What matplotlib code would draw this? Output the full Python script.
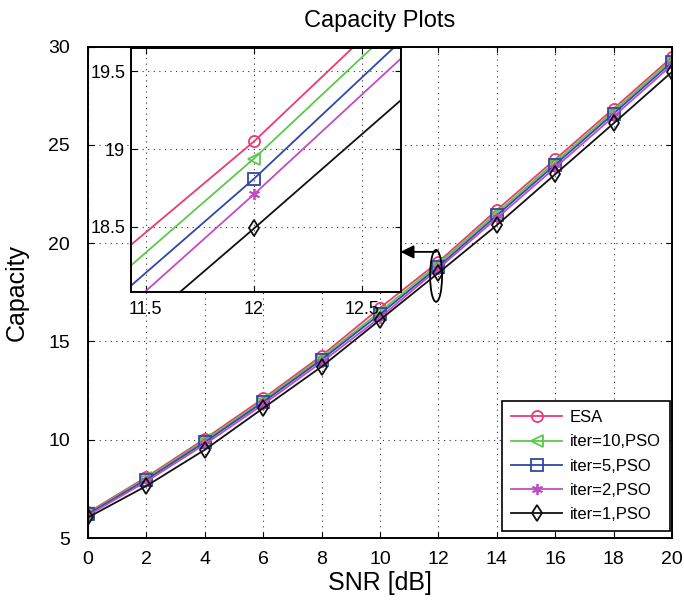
import numpy as np
import matplotlib
matplotlib.use('Agg')
import matplotlib.pyplot as plt
from matplotlib.patches import Ellipse

plt.rcParams['font.family'] = ['Liberation Sans', 'DejaVu Sans']

snr = [0, 2, 4, 6, 8, 10, 12, 14, 16, 18, 20]
esa = [6.30, 8.10, 10.05, 12.10, 14.28, 16.71, 19.05, 21.69, 24.27, 26.85, 29.47]
pso10 = [6.27, 8.03, 9.97, 12.00, 14.18, 16.52, 18.94, 21.55, 24.13, 26.72, 29.35]
pso5 = [6.22, 7.97, 9.88, 11.92, 14.08, 16.39, 18.81, 21.42, 24.00, 26.60, 29.22]
pso2 = [6.16, 7.88, 9.77, 11.80, 13.95, 16.22, 18.71, 21.28, 23.85, 26.45, 29.08]
pso1 = [6.05, 7.65, 9.49, 11.61, 13.72, 16.10, 18.49, 20.92, 23.51, 26.10, 28.72]

labels = ['ESA', 'iter=10,PSO', 'iter=5,PSO', 'iter=2,PSO', 'iter=1,PSO']
series = [esa, pso10, pso5, pso2, pso1]
colors = ['#ec3a74', '#5cc84a', '#2f48a8', '#c04cc4', '#111111']
markers = ['o', '<', 's', (6, 2, 0), 'd']


def style_axes(ax, fs, xpad, ypad):
    ax.grid(True, linestyle=(0, (1, 4)), color='#333333', linewidth=0.8)
    ax.tick_params(direction='in', top=True, right=True, labelsize=fs,
                   length=4, width=0.8)
    ax.tick_params(axis='x', pad=xpad)
    ax.tick_params(axis='y', pad=ypad)
    for sp in ax.spines.values():
        sp.set_linewidth(1.4)


def draw_curves(ax, with_labels):
    for y, lab, c, m in zip(series, labels, colors, markers):
        ax.plot(snr, y, color=c, linewidth=1.3, marker=m, markersize=8,
                markerfacecolor='none', markeredgecolor=c,
                markeredgewidth=1.3, label=lab if with_labels else None)


fig = plt.figure(figsize=(6.84, 6.08), dpi=100)
ax = fig.add_axes([0.1287, 0.1151, 0.8538, 0.8081])
draw_curves(ax, True)

ax.set_xlim(0, 20)
ax.set_ylim(5, 30)
ax.set_xticks(np.arange(0, 21, 2))
ax.set_yticks([5, 10, 15, 20, 25, 30])
style_axes(ax, 14, 9, 13)
ax.set_xlabel('SNR [dB]', fontsize=18, va='center')
ax.xaxis.set_label_coords(0.5, -0.092)
ax.set_ylabel('Capacity', fontsize=18, va='center')
ax.yaxis.set_label_coords(-0.122, 0.5)
ax.set_title('Capacity Plots', fontsize=17, pad=14)

leg = ax.legend(loc='lower right', bbox_to_anchor=(0.9966, 0.0142),
                fontsize=12, fancybox=False, edgecolor='black',
                framealpha=1, borderpad=0.55, handlelength=3.1,
                handletextpad=0.45, labelspacing=0.55, borderaxespad=0)
leg.get_frame().set_linewidth(1.2)

# zoom indicator
ax.add_patch(Ellipse((11.92, 18.34), 0.41, 2.64, fill=False,
                     edgecolor='black', linewidth=1.3, zorder=5))
ax.annotate('', xy=(10.70, 19.56), xytext=(11.92, 19.56),
            arrowprops=dict(arrowstyle='-|>', color='black', lw=1.3,
                            mutation_scale=20, shrinkA=0, shrinkB=0))

# inset
axin = fig.add_axes([0.1911, 0.5202, 0.3952, 0.4016])
draw_curves(axin, False)
axin.set_xlim(11.43, 12.68)
axin.set_ylim(18.083, 19.654)
axin.set_xticks([11.5, 12, 12.5])
axin.set_xticklabels(['11.5', '12', '12.5'])
axin.set_yticks([18.5, 19, 19.5])
axin.set_yticklabels(['18.5', '19', '19.5'])
style_axes(axin, 13, 7, 4)

fig.savefig('out.png', dpi=100)
